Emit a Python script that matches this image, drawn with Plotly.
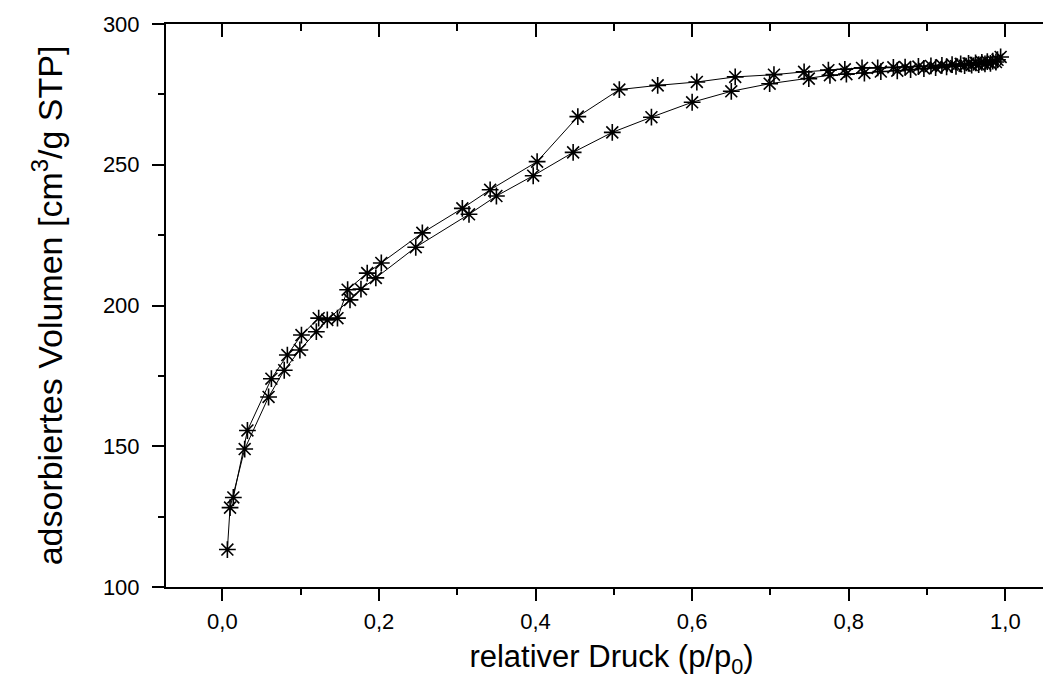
import plotly.graph_objects as go

# Adsorption branch (relative pressure p/p0, adsorbed volume cm3/g STP)
ads_p = [0.0064, 0.0098, 0.0285, 0.059, 0.079, 0.099, 0.120, 0.134, 0.163, 0.177,
         0.196, 0.247, 0.315, 0.350, 0.397, 0.448, 0.498, 0.548, 0.600, 0.650,
         0.699, 0.749, 0.776, 0.797, 0.820, 0.841, 0.862, 0.879, 0.896, 0.911,
         0.925, 0.937, 0.948, 0.957, 0.966, 0.974, 0.981, 0.988, 0.994]
ads_v = [113.3, 128.2, 149.0, 167.5, 177.0, 184.2, 190.7, 194.9, 202.0, 205.8,
         209.8, 220.7, 232.4, 238.9, 246.1, 254.4, 261.5, 266.9, 272.2, 276.1,
         278.8, 280.6, 281.8, 282.2, 282.6, 283.1, 283.4, 283.8, 284.2, 284.5,
         284.8, 285.0, 285.2, 285.4, 285.6, 285.8, 286.0, 286.5, 288.3]

# Desorption branch
des_p = [0.990, 0.984, 0.977, 0.970, 0.962, 0.953, 0.943, 0.932, 0.919, 0.905,
         0.889, 0.872, 0.857, 0.837, 0.817, 0.795, 0.774, 0.743, 0.7045, 0.655,
         0.606, 0.556, 0.507, 0.454, 0.402, 0.342, 0.3065, 0.2554, 0.203, 0.185,
         0.160, 0.147, 0.123, 0.101, 0.083, 0.0626, 0.032, 0.014]
des_v = [287.3, 286.8, 286.6, 286.4, 286.2, 286.0, 285.8, 285.6, 285.3, 285.1,
         284.9, 284.7, 284.6, 284.4, 284.4, 283.9, 283.6, 283.0, 282.0, 281.2,
         279.4, 278.2, 276.7, 267.1, 251.1, 241.1, 234.5, 225.8, 215.1, 211.5,
         205.6, 195.5, 195.5, 189.5, 182.4, 174.0, 155.6, 131.8]

x_ticks = [0.0, 0.2, 0.4, 0.6, 0.8, 1.0]
x_minor = [0.1, 0.3, 0.5, 0.7, 0.9]
y_ticks = [100, 150, 200, 250, 300]
y_minor = [125, 175, 225, 275]
x_range = [-0.072, 1.066]
y_range = [100, 300]

FONT = "Liberation Sans, Arial, sans-serif"

fig = go.Figure()
fig.add_trace(go.Scatter(
    x=ads_p + des_p, y=ads_v + des_v, mode="lines+markers",
    line=dict(color="black", width=1),
    marker=dict(symbol="asterisk-open", size=14, color="black",
                line=dict(color="black", width=1.6)),
    showlegend=False, hoverinfo="x+y"))

# empty traces to activate the extra axes (mirror frame + minor ticks)
for xa, ya in [("x2", "y2"), ("x3", "y3"), ("x4", "y4")]:
    fig.add_trace(go.Scatter(x=[None], y=[None], xaxis=xa, yaxis=ya, showlegend=False))

base = dict(showgrid=False, zeroline=False, tickwidth=2, tickcolor="black",
            automargin=False)

fig.update_layout(
    width=1051, height=689,
    margin=dict(l=158, r=2, t=16, b=110),
    paper_bgcolor="white", plot_bgcolor="white",
    separators=",.",
    font=dict(family=FONT, color="black"),
    # main axes: outward major ticks with labels
    xaxis=dict(**base, showline=True, linecolor="black", linewidth=2,
               range=x_range, tickmode="array", tickvals=x_ticks,
               tickformat=".1f", ticks="outside", ticklen=12, ticklabelstandoff=2,
               tickfont=dict(size=22, family=FONT),
               title=dict(text="relativer Druck (p/p<sub>0</sub>)",
                          font=dict(size=31, family=FONT), standoff=12)),
    yaxis=dict(**base, showline=True, linecolor="black", linewidth=2,
               range=y_range, tickmode="array", tickvals=y_ticks,
               ticks="outside", ticklen=12, ticklabelstandoff=8,
               tickfont=dict(size=22, family=FONT),
               title=dict(text="adsorbiertes Volumen [cm<sup>3</sup>/g STP]",
                          font=dict(size=34, family=FONT), standoff=30)),
    # mirror frame: top / right with inward major ticks
    xaxis2=dict(**base, showline=True, linecolor="black", linewidth=2,
                overlaying="x", side="top", range=x_range, anchor="y2",
                tickmode="array", tickvals=x_ticks, ticks="inside", ticklen=13,
                showticklabels=False),
    yaxis2=dict(**base, showline=True, linecolor="black", linewidth=2,
                overlaying="y", side="right", range=y_range, anchor="x2",
                tickmode="array", tickvals=y_ticks, ticks="inside", ticklen=9,
                showticklabels=False),
    # minor ticks: bottom / left outward
    xaxis3=dict(**base, showline=False, overlaying="x", side="bottom", range=x_range,
                anchor="y3", tickmode="array", tickvals=x_minor, ticks="outside",
                ticklen=7, showticklabels=False),
    yaxis3=dict(**base, showline=False, overlaying="y", side="left", range=y_range,
                anchor="x3", tickmode="array", tickvals=y_minor, ticks="outside",
                ticklen=7, showticklabels=False),
    # minor ticks: top / right inward
    xaxis4=dict(**base, showline=False, overlaying="x", side="top", range=x_range,
                anchor="y4", tickmode="array", tickvals=x_minor, ticks="inside",
                ticklen=7, showticklabels=False),
    yaxis4=dict(**base, showline=False, overlaying="y", side="right", range=y_range,
                anchor="x4", tickmode="array", tickvals=y_minor, ticks="inside",
                ticklen=4, showticklabels=False),
)

fig.write_html("out.html")
